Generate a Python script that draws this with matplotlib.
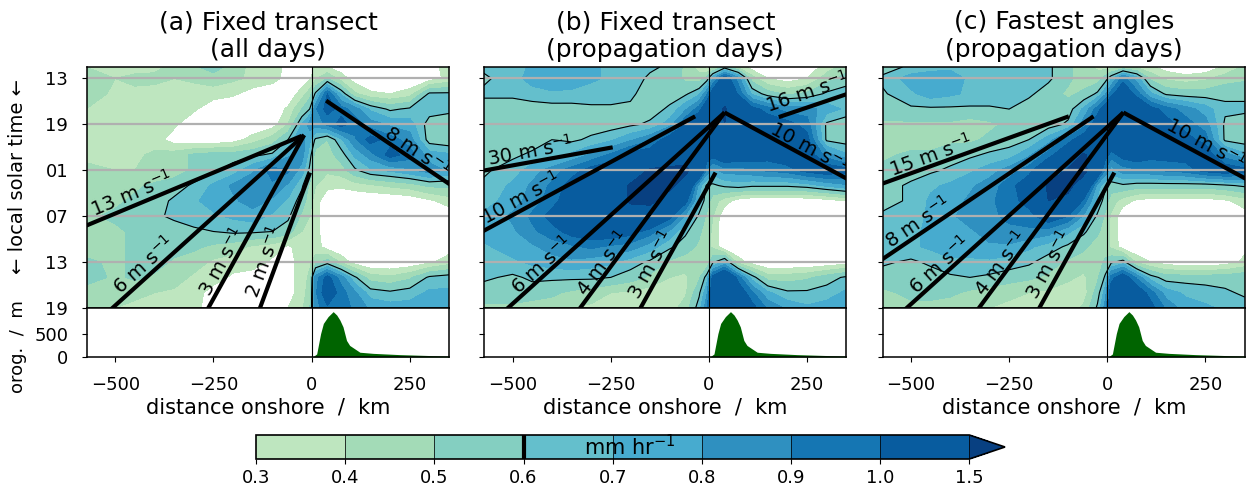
import numpy as np
import matplotlib.pyplot as plt

plt.rcParams['font.family'] = 'DejaVu Sans'
plt.rcParams['axes.linewidth'] = 1.1

# grid of the composites
dist_km = [-575, -500, -450, -400, -350, -300, -250, -200, -150, -100, -60, -25,
           -5, 10, 40, 75, 110, 150, 200, 250, 300, 350]
hours = [11.5, 13, 15, 17, 19, 21, 23, 25, 27, 29, 31, 33, 35, 37, 39, 41, 43]

# rain rate in 0.01 mm/hr, one row per hour, one column per distance
rain_a = [
    [40, 37, 37, 38, 42, 48, 55, 45, 37, 33, 28, 22, 24, 32, 30, 25, 20, 20, 20, 20, 25, 35],
    [45, 40, 42, 42, 40, 42, 45, 42, 38, 35, 25, 22, 28, 38, 50, 35, 25, 20, 20, 20, 25, 33],
    [45, 38, 38, 37, 36, 35, 35, 32, 25, 20, 22, 35, 45, 62, 100, 68, 42, 32, 30, 35, 62, 62],
    [40, 36, 36, 36, 35, 32, 22, 20, 20, 22, 32, 50, 60, 88, 105, 95, 85, 68, 58, 62, 65, 62],
    [36, 35, 35, 35, 32, 22, 20, 20, 20, 25, 40, 70, 85, 85, 92, 105, 95, 85, 78, 75, 55, 55],
    [35, 35, 35, 35, 25, 22, 22, 25, 35, 45, 60, 85, 72, 58, 50, 68, 88, 105, 95, 85, 55, 52],
    [38, 38, 38, 42, 45, 52, 55, 55, 58, 62, 78, 85, 65, 45, 45, 55, 72, 85, 105, 95, 75, 72],
    [42, 40, 40, 42, 45, 52, 58, 65, 78, 95, 92, 75, 58, 45, 42, 45, 58, 68, 72, 78, 85, 78],
    [45, 45, 48, 52, 55, 62, 72, 82, 88, 88, 78, 62, 48, 40, 33, 32, 35, 38, 42, 45, 52, 52],
    [45, 48, 52, 55, 62, 68, 75, 78, 85, 78, 68, 55, 45, 35, 22, 20, 20, 20, 20, 22, 28, 35],
    [48, 52, 55, 58, 62, 65, 68, 72, 75, 68, 62, 48, 40, 35, 20, 20, 20, 20, 20, 20, 20, 22],
    [45, 48, 52, 55, 55, 58, 60, 62, 62, 60, 55, 40, 38, 35, 20, 20, 20, 20, 20, 20, 20, 20],
    [45, 48, 52, 55, 55, 52, 48, 45, 38, 35, 28, 35, 38, 35, 25, 20, 20, 20, 20, 20, 22, 25],
    [52, 48, 52, 55, 48, 45, 38, 35, 35, 28, 25, 35, 38, 45, 55, 38, 25, 20, 20, 22, 28, 35],
    [55, 48, 52, 48, 45, 38, 35, 28, 25, 22, 25, 35, 42, 85, 105, 85, 62, 45, 42, 48, 62, 65],
    [45, 45, 42, 40, 38, 35, 25, 22, 22, 22, 25, 35, 45, 88, 110, 95, 82, 65, 62, 65, 72, 72],
    [42, 40, 38, 38, 35, 33, 25, 22, 25, 25, 30, 38, 48, 85, 98, 95, 88, 78, 75, 75, 78, 78],
]
rain_b = [
    [62, 65, 72, 75, 75, 72, 68, 65, 62, 58, 48, 35, 25, 35, 55, 38, 25, 20, 20, 22, 35, 45],
    [58, 65, 75, 78, 75, 72, 68, 65, 58, 55, 48, 45, 55, 78, 110, 85, 45, 30, 25, 30, 45, 55],
    [62, 62, 65, 68, 68, 65, 65, 62, 55, 55, 58, 68, 88, 110, 125, 98, 68, 55, 48, 52, 62, 65],
    [55, 55, 55, 55, 55, 58, 58, 58, 55, 62, 78, 95, 115, 130, 155, 125, 105, 95, 85, 85, 75, 68],
    [52, 52, 55, 55, 55, 55, 55, 58, 62, 75, 100, 120, 130, 135, 150, 125, 115, 110, 105, 95, 58, 52],
    [55, 55, 55, 60, 58, 62, 68, 78, 88, 110, 120, 125, 120, 120, 130, 125, 115, 110, 115, 105, 58, 55],
    [58, 58, 62, 62, 72, 82, 92, 105, 110, 120, 130, 130, 110, 105, 115, 110, 110, 105, 110, 110, 85, 72],
    [58, 65, 75, 85, 95, 105, 110, 120, 155, 160, 160, 125, 88, 75, 85, 85, 88, 92, 95, 105, 110, 105],
    [62, 72, 82, 92, 105, 110, 115, 155, 160, 160, 130, 75, 58, 58, 62, 65, 62, 62, 62, 65, 72, 78],
    [65, 75, 85, 95, 110, 115, 120, 155, 160, 130, 105, 68, 55, 45, 35, 25, 22, 22, 22, 22, 25, 30],
    [72, 82, 92, 105, 115, 120, 125, 130, 125, 105, 78, 58, 48, 40, 22, 20, 20, 20, 20, 20, 20, 22],
    [75, 78, 88, 95, 105, 110, 110, 105, 95, 78, 62, 52, 45, 38, 20, 20, 20, 20, 20, 20, 20, 20],
    [68, 75, 78, 85, 88, 92, 88, 85, 75, 62, 55, 48, 42, 38, 22, 20, 20, 20, 20, 20, 20, 22],
    [65, 68, 72, 75, 78, 75, 72, 65, 58, 48, 45, 40, 42, 58, 72, 35, 25, 20, 20, 20, 22, 25],
    [62, 58, 62, 62, 62, 62, 60, 55, 48, 40, 38, 48, 65, 105, 125, 95, 65, 45, 45, 48, 55, 62],
    [55, 55, 55, 52, 48, 45, 40, 38, 35, 35, 38, 58, 78, 115, 130, 110, 92, 72, 62, 62, 65, 72],
    [48, 48, 45, 45, 40, 38, 35, 35, 33, 35, 45, 65, 88, 120, 130, 120, 105, 88, 78, 72, 75, 78],
]
rain_c = [
    [55, 62, 65, 68, 68, 65, 65, 62, 62, 52, 45, 38, 35, 35, 42, 38, 32, 25, 20, 22, 32, 42],
    [62, 75, 78, 75, 68, 68, 68, 65, 62, 52, 45, 45, 55, 68, 95, 75, 48, 38, 35, 38, 45, 48],
    [58, 68, 75, 72, 68, 68, 65, 62, 55, 48, 52, 62, 78, 95, 115, 95, 72, 58, 55, 55, 58, 58],
    [55, 58, 58, 58, 58, 58, 60, 55, 52, 55, 72, 95, 110, 125, 150, 120, 105, 95, 85, 75, 62, 62],
    [48, 48, 48, 48, 45, 48, 52, 55, 55, 62, 85, 110, 120, 125, 135, 120, 110, 105, 95, 85, 58, 55],
    [45, 45, 45, 48, 48, 52, 55, 60, 75, 95, 110, 120, 115, 115, 125, 115, 110, 110, 105, 95, 58, 55],
    [48, 52, 52, 55, 58, 62, 65, 78, 95, 115, 155, 125, 105, 95, 105, 110, 105, 105, 105, 110, 85, 72],
    [52, 55, 58, 62, 68, 75, 85, 95, 120, 155, 160, 120, 88, 75, 85, 88, 88, 92, 95, 105, 110, 105],
    [55, 62, 68, 72, 78, 85, 95, 110, 155, 160, 130, 75, 62, 55, 58, 55, 55, 55, 55, 55, 58, 62],
    [55, 62, 72, 75, 82, 88, 95, 105, 150, 140, 95, 68, 55, 45, 35, 28, 25, 25, 25, 25, 28, 35],
    [62, 65, 72, 78, 85, 88, 92, 95, 110, 100, 78, 58, 48, 38, 22, 20, 20, 20, 20, 20, 20, 25],
    [65, 68, 72, 75, 78, 85, 88, 88, 85, 72, 62, 52, 45, 38, 22, 20, 20, 20, 20, 20, 20, 22],
    [65, 68, 72, 75, 75, 78, 78, 72, 65, 58, 52, 45, 45, 38, 25, 20, 20, 20, 20, 20, 22, 28],
    [62, 58, 62, 68, 68, 68, 65, 62, 55, 48, 45, 45, 52, 58, 65, 38, 30, 25, 22, 22, 25, 32],
    [55, 55, 55, 58, 60, 58, 55, 52, 48, 42, 38, 48, 62, 95, 110, 88, 65, 55, 55, 55, 55, 58],
    [48, 52, 52, 52, 48, 45, 42, 40, 38, 35, 35, 55, 75, 110, 125, 110, 95, 75, 68, 65, 62, 58],
    [45, 48, 48, 45, 42, 40, 38, 35, 35, 35, 42, 62, 85, 115, 125, 115, 105, 88, 75, 72, 68, 65],
]

# orography along the transect
orog_x = [-575, 0, 4, 13, 23, 30, 42, 55, 64, 72, 80, 89, 97, 110, 123, 157, 225, 309, 352]
orog_h = [0, 0, 10, 67, 515, 740, 890, 1000, 925, 815, 665, 365, 255, 180, 105, 80, 52, 30, 22]

# propagation lines: speed (m/s), start (km, hour), end hour, direction (-1 offshore)
lines_a = [(13, -25, 20.5, 40, -1), (6, -19, 20.4, 45, -1), (3, -19, 20.4, 45, -1),
           (2, -4, 25.3, 45, -1), (8, 37, 15.9, 35, 1)]
lines_b = [(30, -245, 22.0, 30, -1), (10, -35, 17.95, 40, -1), (6, 40, 17.45, 45, -1),
           (4, 40, 17.45, 45, -1), (3, 17, 25.3, 45, -1), (10, 40, 17.45, 35, 1),
           (16, 178, 18.05, 10, -1)]
lines_c = [(15, -98, 17.95, 35, -1), (8, -35, 17.95, 40, -1), (6, 41, 17.45, 45, -1),
           (4, 41, 17.45, 45, -1), (3, 18, 25.3, 45, -1), (10, 41, 17.45, 35, 1)]

# label centres (km, hour) for each line
labels_a = [(-458, 28.1), (-427, 37.4), (-228, 37.0), (-120, 37.0), (268, 22.5)]
labels_b = [(-455, 22.5), (-478, 28.7), (-427, 37.4), (-270, 37.2), (-147, 37.4),
            (258, 22.0), (250, 14.8)]
labels_c = [(-448, 23.1), (-482, 31.8), (-427, 37.4), (-270, 37.2), (-147, 37.4),
            (250, 21.5)]

titles = ["(a) Fixed transect\n(all days)",
          "(b) Fixed transect\n(propagation days)",
          "(c) Fastest angles\n(propagation days)"]

levels = [0.3, 0.4, 0.5, 0.6, 0.7, 0.8, 0.9, 1.0, 1.5]
cols = plt.get_cmap('GnBu')(np.linspace(0.3, 1.0, 9))

W, H = 1247, 488
fig = plt.figure(figsize=(W / 100, H / 100), dpi=100)

lefts = [87, 484.3, 882.7]
panels = [(rain_a, lines_a, labels_a), (rain_b, lines_b, labels_b), (rain_c, lines_c, labels_c)]

X, T = np.meshgrid(dist_km, hours)
for i, (rain, lines, labs) in enumerate(panels):
    left = lefts[i] / W
    wid = 362 / W
    ax = fig.add_axes([left, (H - 308) / H, wid, 241 / H])
    axo = fig.add_axes([left, (H - 357) / H, wid, 49 / H], sharex=ax)

    z = np.array(rain) / 100.0
    cf = ax.contourf(X, T, z, levels=levels, colors=cols, extend='max', zorder=1)
    cs = ax.contour(X, T, z, levels=[0.6], colors='k', linewidths=0.8, zorder=2)
    ax.set_xlim(-572, 350)
    ax.set_ylim(43, 11.5)
    for h in [13, 19, 25, 31, 37]:
        ax.axhline(h, color='#b0b0b0', lw=1.6, zorder=2.5)
    ax.axvline(0, color='k', lw=0.8, zorder=2.6)

    for (v, x0, t0, t1, d), (lx, lt) in zip(lines, labs):
        tt = np.array([t0, t1])
        xx = x0 + d * v * 3.6 * (tt - t0)
        ax.plot(xx, tt, color='k', lw=3, solid_capstyle='butt', zorder=3)
        p = ax.transData.transform(np.column_stack([xx, tt]))
        ang = np.degrees(np.arctan2(p[1, 1] - p[0, 1], p[1, 0] - p[0, 0]))
        if ang > 90:
            ang -= 180
        if ang < -90:
            ang += 180
        ax.text(lx, lt, f"{v} m s$^{{-1}}$", rotation=ang, rotation_mode='anchor',
                ha='center', va='center', fontsize=14, zorder=4, clip_on=True)

    ax.set_yticks([13, 19, 25, 31, 37, 43])
    ax.set_title(titles[i], fontsize=18, pad=7)
    ax.tick_params(labelsize=13, labelbottom=False, pad=10)

    axo.fill_between(orog_x, orog_h, color='darkgreen', lw=0)
    axo.axvline(0, color='k', lw=0.8)
    axo.set_ylim(0, 1080)
    axo.set_yticks([0, 500])
    axo.set_xticks([-500, -250, 0, 250])
    axo.tick_params(labelsize=13, pad=10)
    axo.set_xlabel("distance onshore  /  km", fontsize=15, labelpad=3)

    if i == 0:
        ax.set_yticklabels(['13', '19', '01', '07', '13', '19'])
        ax.set_ylabel("\u2190 local solar time \u2190", fontsize=14)
        ax.yaxis.set_label_coords(-0.166, 0.546)
        axo.set_ylabel("orog.  /  m", fontsize=13)
        axo.yaxis.set_label_coords(-0.166, 0.22)
    else:
        ax.tick_params(labelleft=False)
        axo.tick_params(labelleft=False)

cax = fig.add_axes([256 / W, (H - 459) / H, 749 / W, 24 / H])
cb = fig.colorbar(cf, cax=cax, orientation='horizontal', drawedges=True)
cb.add_lines(levels=[0.6], colors=['k'], linewidths=[3])
cb.set_ticks(levels)
cb.ax.tick_params(labelsize=13)
cb.outline.set_linewidth(1.2)
fig.text(630 / W, 1 - 447 / H, "mm hr$^{-1}$", ha='center', va='center', fontsize=15)

fig.savefig("out.png", dpi=100)
